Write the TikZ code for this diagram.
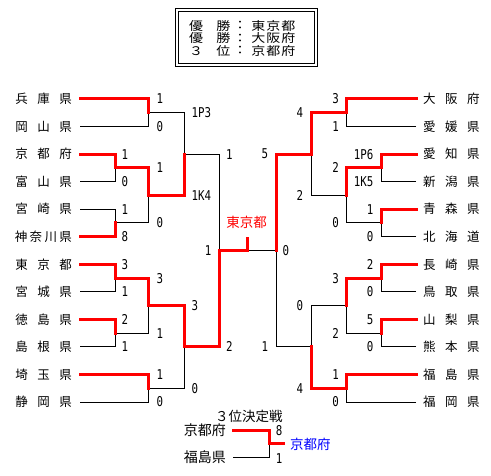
\documentclass[tikz,border=0pt]{standalone}
\usepackage{fontspec}
\usepackage{graphicx}
\setmainfont{Noto Sans CJK JP}
\newfontfamily\dig[FakeStretch=0.8]{DejaVu Sans Mono}
\newcommand\tri[3]{#1\hspace{9.5pt}#2\hspace{9.5pt}#3}
\newcommand\qd[4]{#1\hspace{2.3pt}#2\hspace{2.3pt}#3\hspace{2.3pt}#4}
\newcommand\sq[1]{\scalebox{1}[0.85]{#1}}
\tikzset{
  teamL/.style={anchor=east, inner xsep=8pt, inner ysep=0pt, font=\fontsize{12.5}{12.5}\selectfont},
  teamR/.style={anchor=west, inner xsep=7pt, inner ysep=0pt, font=\fontsize{12.5}{12.5}\selectfont},
  sc/.style={inner sep=0pt, font=\dig\fontsize{13.5}{13.5}\selectfont},
  boxt/.style={inner sep=0pt, font=\fontsize{14}{14}\selectfont},
  lose/.style={draw=black, line width=1pt},
  win/.style={draw=red, line width=3pt, line cap=rect},
}
\begin{document}
\begin{tikzpicture}[x=1pt, y=-1pt]
\fill[white] (0,0) rectangle (491,476);
\useasboundingbox (0,0) rectangle (491,476);

% title box
\draw[line width=1pt] (175,8.3) rectangle (317.3,66.7);
\draw[line width=1pt] (178.3,11.7) rectangle (314,63.3);
\node[boxt] (b1a) at (196.2,25.8) {\sq{優}};
\node[boxt] (b1b) at (223.3,25.8) {\sq{勝}};
\node[boxt] (b1c) at (240,25.8) {\sq{：}};
\node[boxt, anchor=west] (b1d) at (251.2,25.8) {\sq{東\hspace{1pt}京\hspace{1pt}都}};
\node[boxt] (b2a) at (196.2,38.2) {\sq{優}};
\node[boxt] (b2b) at (223.3,38.2) {\sq{勝}};
\node[boxt] (b2c) at (240,38.2) {\sq{：}};
\node[boxt, anchor=west] (b2d) at (251.2,38.2) {\sq{大\hspace{1pt}阪\hspace{1pt}府}};
\node[boxt] (b3a) at (196.2,50.8) {\sq{３}};
\node[boxt] (b3b) at (223.3,50.8) {\sq{位}};
\node[boxt] (b3c) at (240,50.8) {\sq{：}};
\node[boxt, anchor=west] (b3d) at (251.2,50.8) {\sq{京\hspace{1pt}都\hspace{1pt}府}};

% left teams
\node[teamL] (L0) at (80,99) {\tri{兵}{庫}{県}};
\node[teamL] (L1) at (80,126.55) {\tri{岡}{山}{県}};
\node[teamL] (L2) at (80,154.1) {\tri{京}{都}{府}};
\node[teamL] (L3) at (80,181.65) {\tri{富}{山}{県}};
\node[teamL] (L4) at (80,209.2) {\tri{宮}{崎}{県}};
\node[teamL] (L5) at (80,236.75) {\qd{神}{奈}{川}{県}};
\node[teamL] (L6) at (80,264.3) {\tri{東}{京}{都}};
\node[teamL] (L7) at (80,291.85) {\tri{宮}{城}{県}};
\node[teamL] (L8) at (80,319.4) {\tri{徳}{島}{県}};
\node[teamL] (L9) at (80,346.95) {\tri{島}{根}{県}};
\node[teamL] (L10) at (80,374.5) {\tri{埼}{玉}{県}};
\node[teamL] (L11) at (80,402.05) {\tri{静}{岡}{県}};

% right teams
\node[teamR] (R0) at (416,99) {\tri{大}{阪}{府}};
\node[teamR] (R1) at (416,126.55) {\tri{愛}{媛}{県}};
\node[teamR] (R2) at (416,154.1) {\tri{愛}{知}{県}};
\node[teamR] (R3) at (416,181.65) {\tri{新}{潟}{県}};
\node[teamR] (R4) at (416,209.2) {\tri{青}{森}{県}};
\node[teamR] (R5) at (416,236.75) {\tri{北}{海}{道}};
\node[teamR] (R6) at (416,264.3) {\tri{長}{崎}{県}};
\node[teamR] (R7) at (416,291.85) {\tri{鳥}{取}{県}};
\node[teamR] (R8) at (416,319.4) {\tri{山}{梨}{県}};
\node[teamR] (R9) at (416,346.95) {\tri{熊}{本}{県}};
\node[teamR] (R10) at (416,374.5) {\tri{福}{島}{県}};
\node[teamR] (R11) at (416,402.05) {\tri{福}{岡}{県}};

% junctions
\coordinate (m1) at (148,112.8);
\coordinate (m2) at (115,167.9);
\coordinate (m3) at (115,222.95);
\coordinate (m4) at (148,195.4);
\coordinate (m5) at (184,154.1);
\coordinate (m6) at (115,278.1);
\coordinate (m7) at (115,333.2);
\coordinate (m8) at (148,305.6);
\coordinate (m9) at (148,388.3);
\coordinate (m10) at (184,346.95);
\coordinate (m11) at (219,250.5);
\coordinate (n1) at (346,112.8);
\coordinate (n2) at (381,167.9);
\coordinate (n3) at (381,222.95);
\coordinate (n4) at (346,195.4);
\coordinate (n5) at (311,154.1);
\coordinate (n6) at (381,278.1);
\coordinate (n7) at (381,333.2);
\coordinate (n8) at (346,305.6);
\coordinate (n9) at (346,388.3);
\coordinate (n10) at (311,346.95);
\coordinate (n11) at (276,250.5);
\coordinate (c) at (247,250.5);
\coordinate (stub) at (247,238.5);

% losers
\draw[lose] (L1.east) -| (m1);
\draw[lose] (L3.east) -| (m2);
\draw[lose] (L4.east) -| (m3);
\draw[lose] (m3) -| (m4);
\draw[lose] (m1) -| (m5);
\draw[lose] (L7.east) -| (m6);
\draw[lose] (L9.east) -| (m7);
\draw[lose] (m7) -| (m8);
\draw[lose] (L11.east) -| (m9);
\draw[lose] (m9) -| (m10);
\draw[lose] (m5) -| (m11);
\draw[lose] (R1.west) -| (n1);
\draw[lose] (R3.west) -| (n2);
\draw[lose] (R5.west) -| (n3);
\draw[lose] (n3) -| (n4);
\draw[lose] (n4) -| (n5);
\draw[lose] (R7.west) -| (n6);
\draw[lose] (R9.west) -| (n7);
\draw[lose] (n7) -| (n8);
\draw[lose] (R11.west) -| (n9);
\draw[lose] (n8) -| (n10);
\draw[lose] (n10) -| (n11);
\draw[lose] (n11) -- (c);

% winners
\draw[win] (L0.east) -| (m1);
\draw[win] (L2.east) -| (m2);
\draw[win] (L5.east) -| (m3);
\draw[win] (m2) -| (m4);
\draw[win] (m4) -| (m5);
\draw[win] (L6.east) -| (m6);
\draw[win] (L8.east) -| (m7);
\draw[win] (m6) -| (m8);
\draw[win] (L10.east) -| (m9);
\draw[win] (m8) -| (m10);
\draw[win] (m10) -| (m11);
\draw[win] (m11) -- (c) -- (stub);
\draw[win] (R0.west) -| (n1);
\draw[win] (R2.west) -| (n2);
\draw[win] (R4.west) -| (n3);
\draw[win] (n2) -| (n4);
\draw[win] (n1) -| (n5);
\draw[win] (R6.west) -| (n6);
\draw[win] (R8.west) -| (n7);
\draw[win] (n6) -| (n8);
\draw[win] (R10.west) -| (n9);
\draw[win] (n9) -| (n10);
\draw[win] (n5) -| (n11);

\node[inner sep=0pt, text=red, font=\fontsize{13.5}{13.5}\selectfont] (champ) at (246.7,222.3) {東京都};

% scores left (west anchored)
\foreach \x/\y/\t [count=\i] in {
  156.5/99/1, 156.5/126.55/0,
  121.5/154.1/1, 121.5/181.65/0, 121.5/209.2/1, 121.5/236.75/8,
  121.5/264.3/3, 121.5/291.85/1, 121.5/319.4/2, 121.5/346.95/1,
  156.5/167.9/1, 156.5/222.95/0, 156.5/278.1/3, 156.5/333.2/1,
  156.5/374.5/1, 156.5/402.05/0,
  191.5/112.8/1P3, 191.5/195.4/1K4, 191.5/305.6/3, 191.5/388.3/0,
  226/154.1/1, 226/346.95/2, 282.5/250.5/0}
  \node[sc, anchor=west] (sl\i) at (\x,\y) {\t};
% scores right (east anchored)
\foreach \x/\y/\t [count=\i] in {
  373.5/154.1/1P6, 373.5/181.65/1K5, 373.5/209.2/1, 373.5/236.75/0,
  373.5/264.3/2, 373.5/291.85/0, 373.5/319.4/5, 373.5/346.95/0,
  339/99/3, 339/126.55/1, 339/374.5/1, 339/402.05/0,
  339/167.9/2, 339/222.95/0, 339/278.1/3, 339/333.2/2,
  303.3/112.8/4, 303.3/195.4/2, 303.3/305.6/0, 303.3/388.3/4,
  268.3/154.1/5, 268.3/346.95/1, 211.5/250.5/1}
  \node[sc, anchor=east] (sr\i) at (\x,\y) {\t};

% third place
\node[inner sep=0pt, anchor=west, font=\fontsize{13.5}{13.5}\selectfont] (ttl) at (215,416) {３位決定戦};
\node[anchor=east, inner xsep=7pt, inner ysep=0pt, font=\fontsize{14}{14}\selectfont] (K3) at (233,430.5) {京都府};
\node[anchor=east, inner xsep=7pt, inner ysep=0pt, font=\fontsize{14}{14}\selectfont] (F3) at (233,457.3) {福島県};
\coordinate (t) at (269,443.9);
\node[anchor=west, inner xsep=6.7pt, inner ysep=0pt, text=blue, font=\fontsize{13.5}{13.5}\selectfont] (B3) at (283.3,443.9) {京都府};
\draw[lose] (F3.east) -| (t);
\draw[win] (K3.east) -| (t) -- (B3.west);
\node[sc, anchor=west] (s3a) at (275.7,430.5) {8};
\node[sc, anchor=west] (s3b) at (275.7,459) {1};
\end{tikzpicture}
\end{document}
